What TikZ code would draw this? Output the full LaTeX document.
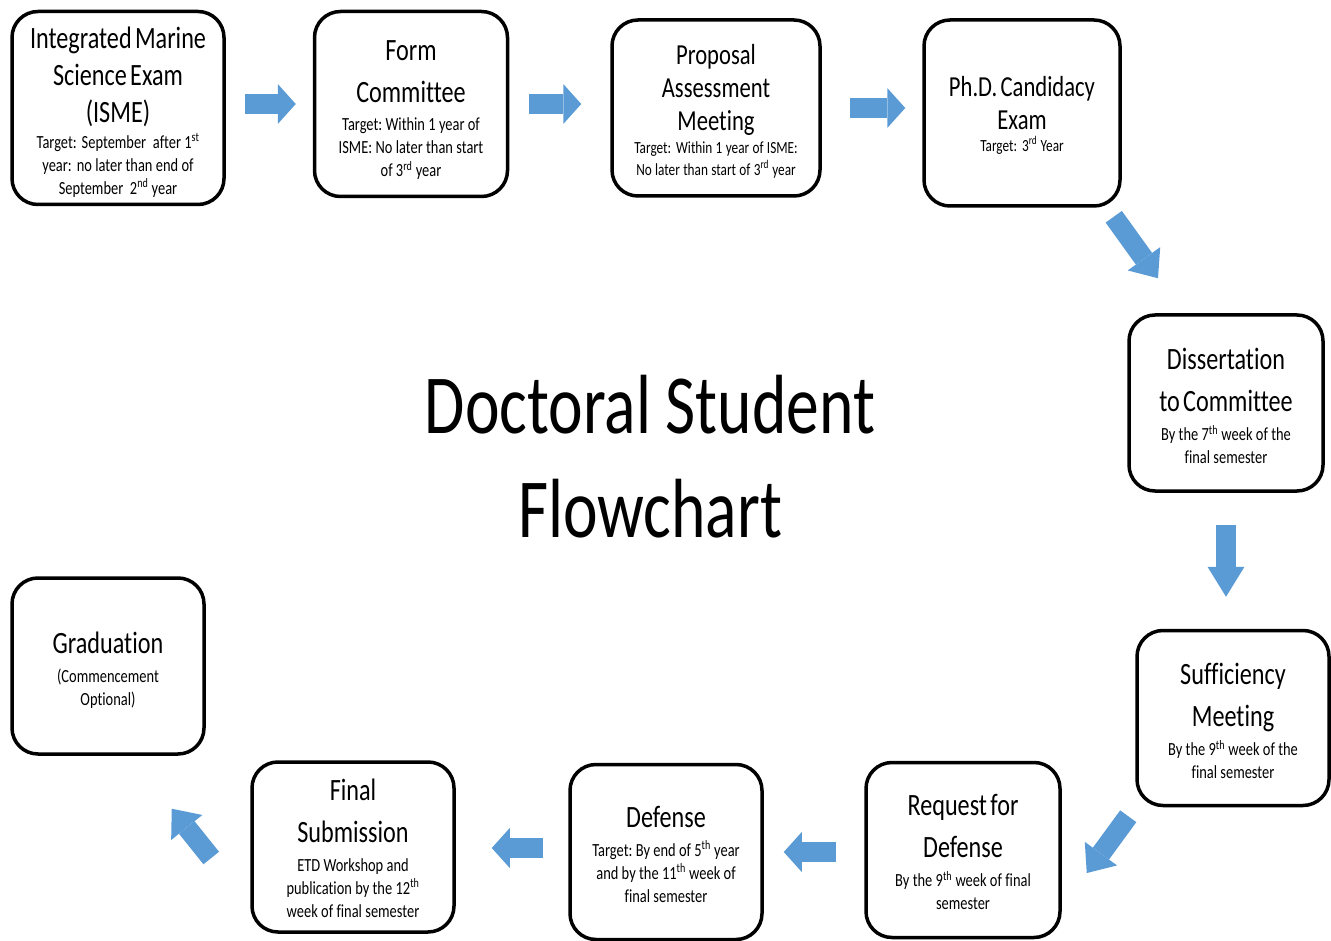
\documentclass[tikz,border=0pt]{standalone}
\usepackage{fontspec}
\setmainfont{Carlito}[FakeStretch=0.78,Ligatures={NoCommon}]
\usetikzlibrary{arrows.meta,calc}
\definecolor{arrowblue}{RGB}{91,155,213}
\newcommand{\boxhead}{\fontsize{31}{42}\selectfont}
\newcommand{\boxheadb}{\fontsize{29}{33}\selectfont}
\newcommand{\boxsmall}{\fontsize{18.5}{23}\selectfont}
\newcommand{\boxsmallb}{\fontsize{17}{22}\selectfont}
\newcommand{\gapsm}{\vspace{6pt}}
\begin{document}
\begin{tikzpicture}[x=1pt,y=-1pt,
  box/.style={draw, line width=3.5pt, rounded corners=26pt, fill=white, inner sep=0pt},
  boxtext/.style={inner sep=0pt, align=center},
  blockarrow/.style={line width=20pt, arrowblue, -{Triangle[width=40pt,length=18pt,line width=0pt]}},
  vblockarrow/.style={line width=20pt, arrowblue, -{Triangle[width=37pt,length=30pt,line width=0pt]}},
  dblockarrow/.style={line width=20pt, arrowblue, -{Triangle[width=40pt,length=24pt,line width=0pt]}},
  titletext/.style={font=\fontsize{84}{105}\selectfont, inner sep=0pt, anchor=base}]
\useasboundingbox (0,0) rectangle (1331,941);

% boxes
\node[box, minimum width=212pt, minimum height=193pt] (isme) at (118,108) {};
\node[box, minimum width=193pt, minimum height=185pt] (form) at (411,104) {};
\node[box, minimum width=208pt, minimum height=176pt] (prop) at (716,108) {};
\node[box, minimum width=196pt, minimum height=186pt] (phd) at (1022,113) {};
\node[box, minimum width=194pt, minimum height=176pt] (diss) at (1226,403) {};
\node[box, minimum width=192pt, minimum height=175pt] (suff) at (1233,718) {};
\node[box, minimum width=194pt, minimum height=175pt] (req) at (963,850) {};
\node[box, minimum width=192pt, minimum height=175pt] (def) at (666,852) {};
\node[box, minimum width=202pt, minimum height=170pt] (final) at (353,847) {};
\node[box, minimum width=192pt, minimum height=176pt] (grad) at (108,666) {};

% box texts
\node[boxtext, text width=212pt] (isme-t) at ($(isme.center)+(0,4)$)
  {{\fontsize{31}{37}\selectfont Integrated Marine\\Science Exam\\(ISME)\par}\vspace{3pt}
   {\boxsmall Target: September\ \ after 1\textsuperscript{st}\\year: no later than end of\\September\ \ 2\textsuperscript{nd} year\par}};
\node[boxtext, text width=193pt] (form-t) at ($(form.center)+(0,6)$)
  {{\boxhead Form\\Committee\par}\vspace{5pt}
   {\boxsmall Target:\ Within 1 year of\\ISME:\ No later than start\\of 3\textsuperscript{rd} year\par}};
\node[boxtext, text width=208pt] (prop-t) at ($(prop.center)+(0,3)$)
  {{\boxheadb Proposal\\Assessment\\Meeting\par}\vspace{1pt}
   {\boxsmallb Target: Within 1 year of ISME:\\No later than start of 3\textsuperscript{rd} year\par}};
\node[boxtext, text width=196pt] (phd-t) at ($(phd.center)+(0,2)$)
  {{\boxheadb Ph.D. Candidacy\\Exam\par}
   {\boxsmallb Target: 3\textsuperscript{rd} Year\par}};
\node[boxtext, text width=194pt] (diss-t) at ($(diss.center)+(0,3)$)
  {{\boxhead Dissertation\\to Committee\par}\gapsm
   {\boxsmall By the 7\textsuperscript{th} week\ of the\\final semester\par}};
\node[boxtext, text width=192pt] (suff-t) at ($(suff.center)+(0,3)$)
  {{\boxhead Sufficiency\\Meeting\par}\gapsm
   {\boxsmall By the 9\textsuperscript{th} week\ of the\\final semester\par}};
\node[boxtext, text width=194pt] (req-t) at ($(req.center)+(0,2)$)
  {{\boxhead Request for\\Defense\par}\gapsm
   {\boxsmall By the 9\textsuperscript{th} week\ of final\\semester\par}};
\node[boxtext, text width=192pt] (def-t) at ($(def.center)+(0,2)$)
  {{\boxhead Defense\par}\gapsm
   {\boxsmall Target:\ By end of 5\textsuperscript{th} year\\and by the 11\textsuperscript{th} week\ of\\final semester\par}};
\node[boxtext, text width=202pt] (final-t) at ($(final.center)+(0,1)$)
  {{\boxhead Final\\Submission\par}\gapsm
   {\boxsmall ETD Workshop and\\publication by the 12\textsuperscript{th}\\week\ of final semester\par}};
\node[boxtext, text width=192pt] (grad-t) at ($(grad.center)+(0,4)$)
  {{\boxhead Graduation\par}\gapsm
   {\boxsmall (Commencement\\Optional)\par}};

% title
\node[titletext] (title1) at (650,433) {Doctoral Student};
\node[titletext] (title2) at (650,537) {Flowchart};

% block arrows
\draw[blockarrow] ($(isme.east)+(19,-4)$) -- ($(form.west)+(-17,0)$);
\draw[blockarrow] ($(form.east)+(20,0)$) -- ($(prop.west)+(-29,-4)$);
\draw[blockarrow] ($(prop.east)+(28,0)$) -- ($(phd.west)+(-17,-5)$);
\draw[dblockarrow] ($(phd.south east)+(-8,9)$) -- ($(diss.north)+(-68,-35)$);
\draw[vblockarrow] ($(diss.south)+(0,32)$) -- ($(suff.north)+(-7,-32)$);
\draw[dblockarrow] ($(suff.south west)+(-7,9)$) -- ($(req.east)+(25,23)$);
\draw[blockarrow] ($(req.west)+(-28,2)$) -- ($(def.east)+(20,0)$);
\draw[blockarrow] ($(def.west)+(-25,-4)$) -- ($(final.east)+(36,1)$);
\draw[dblockarrow] ($(final.west)+(-39,11)$) -- ($(grad.south east)+(-34,53)$);
\end{tikzpicture}
\end{document}
